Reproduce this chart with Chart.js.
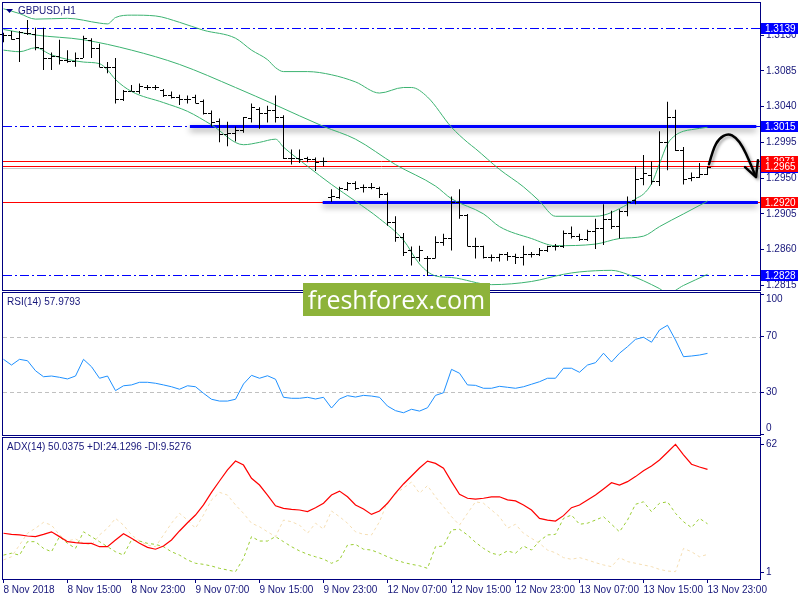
<!DOCTYPE html>
<html>
<head>
<meta charset="utf-8">
<script src="https://cdn.jsdelivr.net/npm/chart.js@4.4.0/dist/chart.umd.min.js"></script>
<style>
  html, body { margin: 0; padding: 0; background: #fff; }
  #wrap { position: relative; width: 800px; height: 600px; overflow: hidden; }
  canvas { position: absolute; left: 0; }
  #mark { position: absolute; left: 303px; top: 283px; width: 187px; height: 33px; background: #8db33a;
          color: #fff; font: 25px "Open Sans", sans-serif; text-align: center; line-height: 32px; }
</style>
</head>
<body>
<div id="wrap">
  <canvas id="price" width="800" height="291" style="top:0"></canvas>
  <canvas id="rsi" width="800" height="145" style="top:291px"></canvas>
  <canvas id="adx" width="800" height="164" style="top:436px"></canvas>
  <div id="mark">freshforex.com</div>
</div>
<script>
// GBPUSD H1, 8 Nov 07:00 .. 13 Nov 23:00 (89 bars)
const timeLabels = ['8 Nov 2018', '8 Nov 15:00', '8 Nov 23:00', '9 Nov 07:00', '9 Nov 15:00', '9 Nov 23:00',
  '12 Nov 07:00', '12 Nov 15:00', '12 Nov 23:00', '13 Nov 07:00', '13 Nov 15:00', '13 Nov 23:00'];
const labelEvery = 8;

const opens = [
  1.3131, 1.3130, 1.3126, 1.3133, 1.3131, 1.3114, 1.3101, 1.3103, 1.3099, 1.3097,
  1.3101, 1.3124, 1.3114, 1.3090, 1.3090, 1.3049, 1.3060, 1.3059, 1.3065, 1.3065,
  1.3061, 1.3055, 1.3052, 1.3049, 1.3052, 1.3047, 1.3032, 1.3022, 1.3006, 1.3007,
  1.3010, 1.3026, 1.3037, 1.3032, 1.3036, 1.3027, 1.2975, 1.2975, 1.2975, 1.2974,
  1.2971, 1.2926, 1.2926, 1.2936, 1.2944, 1.2939, 1.2939, 1.2937, 1.2930, 1.2895,
  1.2876, 1.2859, 1.2851, 1.2850, 1.2850, 1.2870, 1.2875, 1.2920, 1.2904, 1.2865,
  1.2865, 1.2851, 1.2851, 1.2855, 1.2852, 1.2851, 1.2854, 1.2855, 1.2859, 1.2864,
  1.2865, 1.2881, 1.2877, 1.2874, 1.2884, 1.2887, 1.2899, 1.2890, 1.2909, 1.2922,
  1.2950, 1.2954, 1.2947, 1.2995, 1.3027, 1.2986, 1.2950, 1.2952, 1.2955];
const highs = [
  1.3133, 1.3135, 1.3135, 1.3149, 1.3139, 1.3139, 1.3108, 1.3124, 1.3111, 1.3108,
  1.3129, 1.3126, 1.3119, 1.3096, 1.3101, 1.3061, 1.3067, 1.3069, 1.3067, 1.3067,
  1.3062, 1.3059, 1.3055, 1.3054, 1.3055, 1.3049, 1.3035, 1.3025, 1.3021, 1.3015,
  1.3027, 1.3044, 1.3039, 1.3041, 1.3054, 1.3029, 1.2986, 1.2986, 1.2977, 1.2976,
  1.2976, 1.2936, 1.2939, 1.2945, 1.2946, 1.2942, 1.2944, 1.2939, 1.2932, 1.2902,
  1.2881, 1.2864, 1.2865, 1.2852, 1.2877, 1.2880, 1.2927, 1.2936, 1.2905, 1.2875,
  1.2865, 1.2854, 1.2855, 1.2857, 1.2855, 1.2865, 1.2857, 1.2862, 1.2865, 1.2867,
  1.2884, 1.2889, 1.2880, 1.2885, 1.2899, 1.2917, 1.2909, 1.2911, 1.2927, 1.2965,
  1.2979, 1.2971, 1.3009, 1.3046, 1.3036, 1.2989, 1.2957, 1.2969, 1.2965];
const lows = [
  1.3121, 1.3124, 1.3096, 1.3130, 1.3111, 1.3086, 1.3086, 1.3093, 1.3095, 1.3090,
  1.3101, 1.3101, 1.3089, 1.3082, 1.3044, 1.3047, 1.3059, 1.3056, 1.3061, 1.3061,
  1.3052, 1.3050, 1.3042, 1.3044, 1.3044, 1.3030, 1.3015, 1.2995, 1.2990, 1.2996,
  1.3007, 1.3020, 1.3012, 1.3020, 1.3020, 1.2974, 1.2967, 1.2969, 1.2970, 1.2959,
  1.2965, 1.2920, 1.2924, 1.2934, 1.2935, 1.2932, 1.2936, 1.2925, 1.2890, 1.2870,
  1.2852, 1.2840, 1.2845, 1.2827, 1.2849, 1.2865, 1.2859, 1.2899, 1.2864, 1.2849,
  1.2849, 1.2845, 1.2845, 1.2846, 1.2842, 1.2840, 1.2850, 1.2852, 1.2857, 1.2859,
  1.2862, 1.2874, 1.2871, 1.2871, 1.2861, 1.2866, 1.2886, 1.2874, 1.2902, 1.2917,
  1.2941, 1.2942, 1.2940, 1.2960, 1.2984, 1.2942, 1.2946, 1.2950, 1.2954];
const closes = [
  1.3130, 1.3125, 1.3134, 1.3133, 1.3115, 1.3101, 1.3103, 1.3099, 1.3097, 1.3101,
  1.3126, 1.3114, 1.3090, 1.3090, 1.3049, 1.3060, 1.3060, 1.3066, 1.3065, 1.3064,
  1.3055, 1.3052, 1.3049, 1.3050, 1.3045, 1.3032, 1.3021, 1.3006, 1.3007, 1.3011,
  1.3027, 1.3039, 1.3032, 1.3036, 1.3027, 1.2975, 1.2975, 1.2974, 1.2974, 1.2970,
  1.2972, 1.2927, 1.2937, 1.2944, 1.2937, 1.2939, 1.2939, 1.2930, 1.2895, 1.2876,
  1.2857, 1.2851, 1.2859, 1.2850, 1.2870, 1.2875, 1.2920, 1.2904, 1.2865, 1.2865,
  1.2851, 1.2851, 1.2854, 1.2852, 1.2851, 1.2854, 1.2855, 1.2859, 1.2864, 1.2865,
  1.2881, 1.2877, 1.2874, 1.2884, 1.2887, 1.2899, 1.2890, 1.2909, 1.2920, 1.2949,
  1.2956, 1.2947, 1.2995, 1.3027, 1.2986, 1.2949, 1.2952, 1.2955, 1.2964];

// Bollinger bands, read at [bar, price]
const bbUpper = [[0, 1.3163], [2, 1.3157], [4, 1.3150], [8, 1.3151], [12, 1.3145], [13, 1.3144], [14, 1.3152],
  [16, 1.3155], [19, 1.3154], [22, 1.3146], [25, 1.3136], [29, 1.3126], [31, 1.3111], [33, 1.3099], [34, 1.3089],
  [35, 1.3084], [38, 1.3084], [41, 1.3080], [44, 1.3071], [47, 1.3057], [50, 1.3064], [51, 1.3064], [53, 1.3052],
  [56, 1.3014], [58, 1.2995], [59, 1.2987], [62, 1.2961], [65, 1.2939], [67, 1.2921], [69, 1.2902], [74, 1.2902],
  [78, 1.2917], [79, 1.2924], [80, 1.2930], [81, 1.2943], [82, 1.2968], [83, 1.2993], [84, 1.3004], [85, 1.3009],
  [86, 1.3011], [88, 1.3014]];
const bbMiddle = [[0, 1.3137], [4, 1.3130], [10, 1.3124], [16, 1.3111], [22, 1.3093], [29, 1.3064], [34, 1.3042],
  [40, 1.3015], [44, 1.2999], [49, 1.2967], [54, 1.2940], [56, 1.2924], [60, 1.2905], [62, 1.2889], [66, 1.2874],
  [69, 1.2865], [74, 1.2867], [77, 1.2874], [80, 1.2877], [82, 1.2889], [85, 1.2905], [88, 1.2921]];
const bbLower = [[0, 1.3111], [2, 1.3109], [4, 1.3114], [6, 1.3105], [10, 1.3096], [12, 1.3094], [13, 1.3086],
  [14, 1.3074], [16, 1.3059], [20, 1.3045], [23, 1.3034], [26, 1.3017], [30, 1.2992], [32, 1.2995], [34, 1.2999],
  [35, 1.2989], [38, 1.2965], [41, 1.2942], [44, 1.2921], [47, 1.2899], [50, 1.2872], [52, 1.2842], [54, 1.2827],
  [56, 1.2825], [61, 1.2816], [66, 1.2820], [70, 1.2829], [72, 1.2832], [76, 1.2834], [78, 1.2829], [82, 1.2811],
  [83, 1.2805], [85, 1.2815], [88, 1.2829]];

const rsi = [
  53.7, 49.6, 53.7, 52.7, 45.5, 41.2, 41.7, 40.8, 39.6, 41.7,
  53.7, 48.4, 40.1, 41.7, 31.2, 34.7, 35.3, 37.2, 37.2, 36.5,
  35.3, 34.0, 32.2, 34.7, 34.0, 29.3, 25.0, 23.7, 23.7, 25.0,
  36.0, 42.2, 40.1, 41.9, 39.4, 26.4, 25.7, 25.7, 26.4, 25.2,
  26.4, 18.7, 25.2, 27.6, 26.6, 27.8, 27.3, 26.4, 20.1, 16.8,
  15.3, 17.8, 16.5, 18.9, 27.8, 29.7, 46.5, 43.7, 35.3, 35.0,
  32.9, 32.9, 34.3, 33.6, 32.9, 34.0, 35.8, 37.6, 40.1, 40.1,
  47.3, 47.3, 44.4, 49.6, 51.3, 58.1, 51.8, 58.1, 62.8, 68.1,
  69.6, 66.0, 74.8, 78.2, 67.6, 55.6, 56.1, 56.8, 57.9793];
const adx = [
  19.6, 19.1, 18.8, 18.3, 18.0, 19.1, 20.3, 18.0, 15.6, 15.1,
  14.8, 14.8, 13.2, 13.2, 16.4, 19.4, 17.2, 14.8, 12.9, 12.0,
  13.5, 16.4, 20.7, 24.6, 28.3, 33.1, 39.1, 44.5, 49.8, 54.0,
  52.1, 45.8, 42.6, 37.8, 32.7, 31.5, 31.0, 30.7, 29.9, 31.8,
  33.9, 37.8, 39.7, 37.0, 33.1, 31.2, 28.6, 30.2, 33.9, 38.7,
  43.1, 46.9, 50.7, 54.0, 52.9, 50.6, 44.2, 38.2, 36.3, 35.9,
  36.3, 36.9, 37.0, 35.5, 35.0, 33.1, 30.7, 26.7, 25.9, 25.4,
  28.0, 31.8, 33.1, 35.5, 37.8, 40.7, 43.7, 42.6, 44.2, 46.6,
  49.4, 51.7, 54.5, 58.2, 62.0, 57.0, 52.5, 51.2, 50.0375];
const plusDI = [
  9.2, 10.1, 9.2, 15.6, 15.6, 12.4, 10.8, 18.0, 14.8, 12.4,
  20.3, 18.0, 15.6, 13.2, 10.8, 9.2, 16.4, 15.9, 14.8, 14.3,
  13.2, 10.8, 9.2, 6.9, 5.3, 4.8, 4.0, 2.9, 2.1, 1.3,
  7.7, 18.0, 15.9, 15.9, 18.0, 15.6, 13.2, 11.2, 9.6, 8.4,
  7.3, 5.3, 6.9, 14.0, 14.3, 12.0, 11.6, 10.1, 8.4, 6.9,
  5.7, 4.8, 4.1, 2.9, 13.2, 13.5, 21.2, 21.5, 18.8, 15.3,
  12.4, 10.1, 9.2, 11.2, 10.1, 13.5, 11.6, 15.9, 18.8, 19.1,
  26.7, 28.3, 23.9, 24.4, 25.9, 27.5, 23.9, 20.3, 25.9, 33.4,
  34.6, 29.9, 33.9, 34.6, 29.1, 25.1, 22.3, 26.7, 24.1296];
const minusDI = [
  6.9, 8.4, 14.0, 19.6, 22.0, 24.8, 23.5, 18.8, 15.9, 16.9,
  14.8, 14.0, 18.8, 22.0, 26.7, 23.5, 18.8, 15.9, 14.0, 13.2,
  18.8, 24.4, 29.1, 25.9, 22.0, 28.3, 35.5, 39.1, 37.8, 33.1,
  29.1, 24.4, 22.7, 20.3, 18.0, 25.9, 25.1, 23.5, 19.6, 24.4,
  21.6, 30.2, 27.5, 24.4, 20.3, 19.1, 18.8, 25.1, 34.6, 38.3,
  41.2, 44.0, 38.7, 42.3, 37.0, 32.3, 27.5, 23.5, 29.1, 34.6,
  33.9, 30.7, 27.5, 22.0, 23.9, 19.6, 17.2, 14.8, 11.6, 10.3,
  8.0, 7.2, 8.0, 6.9, 5.6, 4.5, 3.7, 8.0, 6.1, 5.3,
  4.5, 3.7, 2.4, 1.6, 1.3, 12.4, 10.8, 8.4, 9.5276];

const priceTicks = [1.3130, 1.3085, 1.3040, 1.2995, 1.2950, 1.2905, 1.2860, 1.2815];
const rsiTicks = [100, 70, 30, 0];
const rsiLevels = [70, 30];
const adxTicks = [62, 1];

// chart objects
const dashDotLevels = [1.3139, 1.3015, 1.2828];
const redLevels = [1.2971, 1.2965, 1.2920];
const bidLevel = 1.2964;
const thickLines = [[1.3015, 23.3, 94.1], [1.2920, 39.9, 94.3]];   // price, from bar, to bar
const arrowPath = [[88.19, 1.29675], [88.69, 1.29863], [89.44, 1.3000], [90.56, 1.30063], [91.56, 1.30013],
  [92.44, 1.29888], [93.19, 1.29725], [93.94, 1.2954]];
const arrowHead = [[92.69, 1.29638], [94.06, 1.29513], [94.31, 1.29725]];

const NAVY = '#000080';
const TEXT = '#16167a';
const FONT = { family: '"Liberation Sans", Arial, sans-serif', size: 10 };
const FONT_CSS = '10px "Liberation Sans", Arial, sans-serif';
const X_MIN = -0.0625, X_MAX = 94.5625;
const P_MIN = 1.280927, P_MAX = 1.317028;

function zeroPad(a) { a.paddingTop = 0; a.paddingBottom = 0; a.paddingLeft = 0; a.paddingRight = 0; }

function xAxis(show) {
  return {
    type: 'linear', min: X_MIN, max: X_MAX, offset: false, display: show,
    afterBuildTicks: a => { a.ticks = timeLabels.map((_, k) => ({ value: k * labelEvery })); },
    afterFit: a => { a.height = show ? 21 : 0; zeroPad(a); },
    grid: { drawOnChartArea: false, drawTicks: true, tickLength: 4, color: NAVY },
    border: { display: false },
    ticks: {
      autoSkip: false, maxRotation: 0, minRotation: 0, align: 'start', padding: 1, color: TEXT, font: FONT,
      callback: v => timeLabels[Math.round(v / labelEvery)]
    }
  };
}

function yAxis(min, max, vals, fmt) {
  return {
    type: 'linear', position: 'right', min: min, max: max,
    afterBuildTicks: a => { a.ticks = vals.map(v => ({ value: v })); },
    afterFit: a => { a.width = 40; zeroPad(a); },
    grid: { drawOnChartArea: false, drawTicks: true, tickLength: 4, color: NAVY },
    border: { display: true, color: NAVY },
    ticks: { padding: 2, color: TEXT, font: FONT, callback: fmt }
  };
}

function frame(chart) {
  const { ctx, chartArea: a } = chart;
  ctx.save();
  ctx.strokeStyle = NAVY;
  ctx.lineWidth = 1;
  ctx.setLineDash([]);
  ctx.strokeRect(a.left - 0.5, a.top - 0.5, a.right - a.left + 1, a.bottom - a.top + 1);
  ctx.restore();
}

function hline(ctx, a, py, color, dash) {
  const yy = Math.round(py) + 0.5;
  ctx.strokeStyle = color;
  ctx.lineWidth = 1;
  ctx.setLineDash(dash);
  ctx.beginPath();
  ctx.moveTo(a.left, yy);
  ctx.lineTo(a.right, yy);
  ctx.stroke();
}

function paneLabel(ctx, text, yy) {
  ctx.fillStyle = TEXT;
  ctx.font = FONT_CSS;
  ctx.textAlign = 'left';
  ctx.textBaseline = 'middle';
  ctx.fillText(text, 7, yy);
}

function priceBox(chart, value, color) {
  const { ctx, chartArea: a, scales: { y } } = chart;
  const top = Math.round(y.getPixelForValue(value)) - 5;
  ctx.fillStyle = color;
  ctx.fillRect(a.right + 1, top, 37, 11);
  ctx.fillStyle = '#fff';
  ctx.font = FONT_CSS;
  ctx.textAlign = 'left';
  ctx.textBaseline = 'middle';
  ctx.fillText(value.toFixed(4), a.right + 5, top + 6);
}

const pricePlugin = {
  id: 'priceDecor',
  beforeDatasetsDraw(chart) {
    const { ctx, chartArea: a, scales: { x, y } } = chart;
    ctx.save();
    ctx.beginPath();
    ctx.rect(a.left, a.top, a.right - a.left, a.bottom - a.top);
    ctx.clip();
    hline(ctx, a, y.getPixelForValue(bidLevel) + 1, '#c8c8c8', []);
    redLevels.forEach(v => hline(ctx, a, y.getPixelForValue(v), '#ff0000', []));
    dashDotLevels.forEach(v => hline(ctx, a, y.getPixelForValue(v), '#0000ff', [9, 3, 2, 3]));
    ctx.setLineDash([]);
    ctx.shadowColor = 'rgba(0,0,0,0.45)';
    ctx.shadowBlur = 6;
    ctx.shadowOffsetY = 3;
    ctx.strokeStyle = '#0000ff';
    ctx.lineWidth = 3;
    thickLines.forEach(([v, i0, i1]) => {
      const py = Math.round(y.getPixelForValue(v)) + 0.5;
      ctx.beginPath();
      ctx.moveTo(x.getPixelForValue(i0), py);
      ctx.lineTo(x.getPixelForValue(i1), py);
      ctx.stroke();
    });
    ctx.restore();
  },
  afterDatasetsDraw(chart) {
    const { ctx, scales: { x, y } } = chart;
    ctx.save();
    // open / close ticks
    ctx.fillStyle = '#000';
    opens.forEach((o, i) => {
      const px = Math.floor(x.getPixelForValue(i));
      ctx.fillRect(px - 3, Math.round(y.getPixelForValue(o)), 3, 1);
      ctx.fillRect(px + 1, Math.round(y.getPixelForValue(closes[i])), 3, 1);
    });
    // hand drawn arrow
    ctx.shadowColor = 'rgba(0,0,0,0.35)';
    ctx.shadowBlur = 3;
    ctx.shadowOffsetX = 2;
    ctx.shadowOffsetY = 2;
    ctx.strokeStyle = '#000';
    ctx.lineWidth = 2.5;
    ctx.lineCap = 'round';
    ctx.lineJoin = 'round';
    const pts = arrowPath.map(([i, v]) => [x.getPixelForValue(i), y.getPixelForValue(v)]);
    ctx.beginPath();
    ctx.moveTo(pts[0][0], pts[0][1]);
    for (let k = 1; k < pts.length - 1; k++) {
      ctx.quadraticCurveTo(pts[k][0], pts[k][1], (pts[k][0] + pts[k + 1][0]) / 2, (pts[k][1] + pts[k + 1][1]) / 2);
    }
    ctx.lineTo(pts[pts.length - 1][0], pts[pts.length - 1][1]);
    ctx.stroke();
    ctx.beginPath();
    arrowHead.forEach(([i, v], k) => {
      const px = x.getPixelForValue(i), py = y.getPixelForValue(v);
      if (k === 0) ctx.moveTo(px, py); else ctx.lineTo(px, py);
    });
    ctx.stroke();
    ctx.restore();
    frame(chart);
  },
  afterDraw(chart) {
    const { ctx } = chart;
    ctx.save();
    priceBox(chart, bidLevel, '#0000ff');
    redLevels.forEach(v => priceBox(chart, v, '#ff0000'));
    dashDotLevels.forEach(v => priceBox(chart, v, '#0000ff'));
    // title
    ctx.fillStyle = NAVY;
    ctx.beginPath();
    ctx.moveTo(6, 9); ctx.lineTo(13, 9); ctx.lineTo(9.5, 13); ctx.closePath();
    ctx.fill();
    ctx.fillStyle = TEXT;
    ctx.font = FONT_CSS;
    ctx.textAlign = 'left';
    ctx.textBaseline = 'middle';
    ctx.fillText('GBPUSD,H1', 18, 11);
    ctx.restore();
  }
};

const rsiPlugin = {
  id: 'rsiDecor',
  beforeDatasetsDraw(chart) {
    const { ctx, chartArea: a, scales: { y } } = chart;
    ctx.save();
    rsiLevels.forEach(v => hline(ctx, a, y.getPixelForValue(v), '#c0c0c0', [4, 3]));
    ctx.restore();
  },
  afterDraw(chart) {
    const { ctx, chartArea: a } = chart;
    ctx.save();
    paneLabel(ctx, 'RSI(14) ' + rsi[rsi.length - 1].toFixed(4), 11);
    ctx.fillStyle = TEXT;
    ctx.fillText(String(rsiTicks[0]), a.right + 6, 8);
    ctx.fillText(String(rsiTicks[rsiTicks.length - 1]), a.right + 6, 137);
    ctx.restore();
    frame(chart);
  }
};

const adxPlugin = {
  id: 'adxDecor',
  afterDraw(chart) {
    const { ctx } = chart;
    ctx.save();
    paneLabel(ctx, 'ADX(14) ' + adx[adx.length - 1].toFixed(4) + ' +DI:' + plusDI[plusDI.length - 1].toFixed(4) +
      ' -DI:' + minusDI[minusDI.length - 1].toFixed(4), 11);
    ctx.restore();
    frame(chart);
  }
};

const pts = arr => arr.map((v, i) => ({ x: i, y: v }));
const pairs = arr => arr.map(([i, v]) => ({ x: i, y: v }));
const common = {
  responsive: false, animation: false, events: [],
  plugins: { legend: { display: false }, tooltip: { enabled: false } }
};
const band = data => ({
  type: 'line', data: pairs(data), borderColor: '#3cb371', borderWidth: 1,
  pointRadius: 0, cubicInterpolationMode: 'monotone'
});

new Chart(document.getElementById('price'), {
  type: 'bar',
  data: {
    datasets: [
      {
        type: 'bar',
        data: highs.map((h, i) => ({ x: i, y: [lows[i], h] })),
        backgroundColor: '#000', borderWidth: 0, barThickness: 1, inflateAmount: 0
      },
      band(bbUpper), band(bbMiddle), band(bbLower)
    ]
  },
  options: Object.assign({}, common, {
    layout: { padding: { left: 3, top: 3, right: 0, bottom: 1 } },
    scales: {
      x: xAxis(false),
      y: yAxis(P_MIN, P_MAX, priceTicks, v => v.toFixed(4))
    }
  }),
  plugins: [pricePlugin]
});

new Chart(document.getElementById('rsi'), {
  type: 'line',
  data: {
    datasets: [{ data: pts(rsi), borderColor: '#1e90ff', borderWidth: 1, pointRadius: 0, tension: 0 }]
  },
  options: Object.assign({}, common, {
    layout: { padding: { left: 3, top: 2, right: 0, bottom: 1 } },
    scales: {
      x: xAxis(false),
      y: yAxis(-0.7, 101.4, rsiTicks, v => (rsiLevels.includes(v) ? String(v) : ''))
    }
  }),
  plugins: [rsiPlugin]
});

new Chart(document.getElementById('adx'), {
  type: 'line',
  data: {
    datasets: [
      { data: pts(adx), borderColor: '#ff0000', borderWidth: 1.2, pointRadius: 0, tension: 0 },
      { data: pts(plusDI), borderColor: '#9acd32', borderWidth: 1, borderDash: [3, 3], pointRadius: 0, tension: 0 },
      { data: pts(minusDI), borderColor: '#f5deb3', borderWidth: 1, borderDash: [3, 3], pointRadius: 0, tension: 0 }
    ]
  },
  options: Object.assign({}, common, {
    layout: { padding: { left: 3, top: 2, right: 0, bottom: 0 } },
    scales: {
      x: xAxis(true),
      y: yAxis(-2.19, 65.0, adxTicks, v => String(v))
    }
  }),
  plugins: [adxPlugin]
});
</script>
</body>
</html>
